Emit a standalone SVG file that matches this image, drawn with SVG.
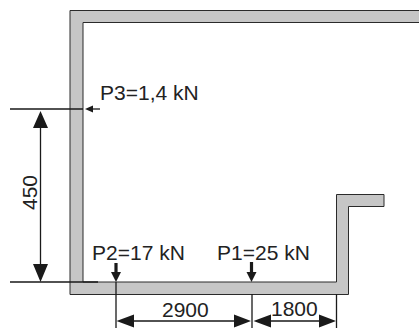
<svg xmlns="http://www.w3.org/2000/svg" width="419" height="328" viewBox="0 0 419 328">
<style>
.t{font-family:"Liberation Sans",Arial,sans-serif;font-size:21px;fill:#222}
.l{stroke:#1a1a1a;stroke-width:1.3;fill:none}
.h{fill:#1a1a1a;stroke:none}
</style>
<rect width="419" height="328" fill="#fff"/>
<g id="frame">
<path d="M419 10.500H70V294.500H348.500V206.500H384V194.500H336.500V282H83V22.500H419Z" fill="#c6c6c6" stroke="none"/>
<path d="M419 10.500H70V294.500H348.500V206.500H384V194.500H336.500V282H83V22.500H419" fill="none" stroke="#2a2a2a" stroke-width="1"/>
</g>
<g id="connectors">
<path class="l" d="M10 109H83M10 282H98M40.500 118V276"/>
<path class="h" d="M40.500 111L48 128H33ZM40.500 282L33 264H48Z"/>
<path class="l" d="M91 109H100"/>
<path class="h" d="M85 109L93 105.500V112.500Z"/>
<path d="M116 263V274" stroke="#1a1a1a" stroke-width="3.200" fill="none"/>
<path class="h" d="M116 282L111 272H121Z"/>
<path d="M251.500 262V274" stroke="#1a1a1a" stroke-width="3.200" fill="none"/>
<path class="h" d="M251.500 282L246.500 272H256.500Z"/>
<path class="l" d="M116 282V328M252 294V328M336.500 294V328M125 321H244M258 321H330"/>
<path class="h" d="M116.500 321L134 314.500V327.500ZM251 321L234 314.500V327.500ZM253.500 321L271 314.500V327.500ZM336 321L319 314.500V327.500Z"/>
</g>
<g id="labels">
<text class="t" x="100" y="100">P3=1,4 kN</text>
<text class="t" x="92" y="260">P2=17 kN</text>
<text class="t" x="217" y="260">P1=25 kN</text>
<text class="t" x="162" y="317">2900</text>
<text class="t" x="271" y="316">1800</text>
<text class="t" transform="translate(37 210) rotate(-90)">450</text>
</g>
</svg>
